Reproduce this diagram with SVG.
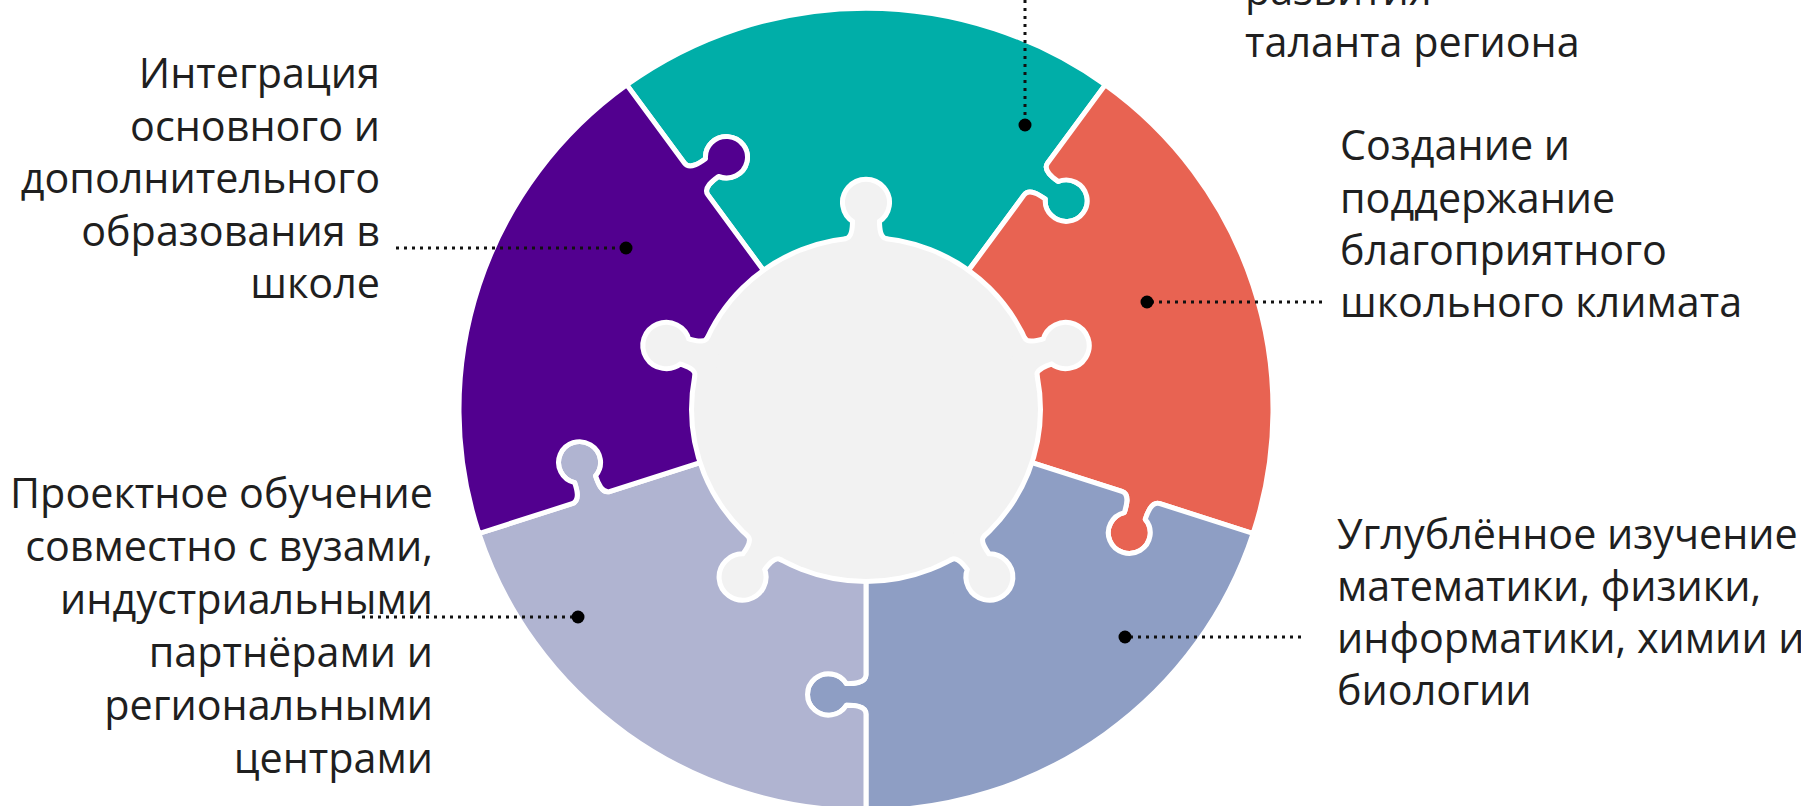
<svg xmlns="http://www.w3.org/2000/svg" width="1801" height="806" viewBox="0 0 1801 806">
<style>
.piece{stroke:#ffffff;stroke-width:5;stroke-linejoin:round}
.lbl{font-family:"Open Sans","Noto Sans","DejaVu Sans",sans-serif;font-size:41.3px;fill:#1f1f1f}
.end{text-anchor:end}
.dotline{stroke:#111;stroke-width:3;stroke-dasharray:3 5;fill:none}
.dot{fill:#000}
</style>
<defs>
<path id="piece" class="piece" d="M -239.23,-329.27 A 407 407 0 0 1 239.23,-329.27 L 181.63,-249.99 C 176.34,-242.71 187.34,-234.71 192.20,-231.19 A 21 21 0 1 1 179.26,-213.39 C 174.40,-216.92 163.40,-224.91 158.11,-217.63 L 101.10,-139.15 A 172 172 0 0 0 19.95,-170.84 C 11,-171.9 11,-186 11,-192.1 A 21 21 0 1 0 -11,-192.1 C -11,-186 -11,-171.9 -19.95,-170.84 A 172 172 0 0 0 -101.10,-139.15 L -158.11,-217.63 C -163.40,-224.91 -152.41,-232.89 -147.55,-236.43 A 21 21 0 1 0 -160.48,-254.23 C -165.33,-250.70 -176.34,-242.71 -181.63,-249.99 Z"/>
<path id="knob" d="M -19.95,-170.84 C -11,-171.9 -11,-186 -11,-192.1 A 21 21 0 1 1 11,-192.1 C 11,-186 11,-171.9 19.95,-170.84 L 0,-150 Z"/>
</defs>
<rect width="1801" height="806" fill="#ffffff"/>

<g id="node-talent">
<use href="#piece" fill="#00AEA8" transform="translate(866,409.5) scale(1,0.986)"/>
<text class="lbl" x="1245" y="4.5">развития</text>
<text class="lbl" x="1245" y="57">таланта региона</text>
</g>
<g id="node-climate">
<use href="#piece" fill="#E86352" transform="translate(866,409.5) scale(1,0.986) rotate(72)"/>
<text class="lbl" x="1340" y="160">Создание и</text>
<text class="lbl" x="1340" y="212.5">поддержание</text>
<text class="lbl" x="1340" y="265">благоприятного</text>
<text class="lbl" x="1340" y="317">школьного климата</text>
</g>
<g id="node-science">
<use href="#piece" fill="#8E9EC4" transform="translate(866,409.5) scale(1,0.986) rotate(144)"/>
<text class="lbl" x="1337" y="549">Углублённое изучение</text>
<text class="lbl" x="1337" y="601">математики, физики,</text>
<text class="lbl" x="1337" y="653">информатики, химии и</text>
<text class="lbl" x="1337" y="705">биологии</text>
</g>
<g id="node-projects">
<use href="#piece" fill="#B0B4D1" transform="translate(866,409.5) scale(1,0.986) rotate(216)"/>
<text class="lbl end" x="433" y="508">Проектное обучение</text>
<text class="lbl end" x="433" y="561">совместно с вузами,</text>
<text class="lbl end" x="433" y="614">индустриальными</text>
<text class="lbl end" x="433" y="667">партнёрами и</text>
<text class="lbl end" x="433" y="720">региональными</text>
<text class="lbl end" x="433" y="773">центрами</text>
</g>
<g id="node-integration">
<use href="#piece" fill="#52008F" transform="translate(866,409.5) scale(1,0.986) rotate(288)"/>
<text class="lbl end" x="380" y="88">Интеграция</text>
<text class="lbl end" x="380" y="140.5">основного и</text>
<text class="lbl end" x="380" y="193">дополнительного</text>
<text class="lbl end" x="380" y="245.5">образования в</text>
<text class="lbl end" x="380" y="298">школе</text>
</g>
<g id="node-center" transform="translate(866,409.5) scale(1,0.986)">
<g fill="#ffffff" stroke="#ffffff" stroke-width="10" stroke-linejoin="round">
<circle r="172"/>
<use href="#knob"/>
<use href="#knob" transform="rotate(72)"/>
<use href="#knob" transform="rotate(144)"/>
<use href="#knob" transform="rotate(216)"/>
<use href="#knob" transform="rotate(288)"/>
</g>
<g fill="#F2F2F2">
<circle r="172"/>
<use href="#knob"/>
<use href="#knob" transform="rotate(72)"/>
<use href="#knob" transform="rotate(144)"/>
<use href="#knob" transform="rotate(216)"/>
<use href="#knob" transform="rotate(288)"/>
</g>
</g>

<g id="connectors">
<line class="dotline" x1="1025" y1="0" x2="1025" y2="120"/>
<circle class="dot" cx="1025" cy="125" r="6.5"/>
<line class="dotline" x1="1151" y1="302" x2="1323" y2="302"/>
<circle class="dot" cx="1147" cy="302" r="6.5"/>
<line class="dotline" x1="1130" y1="637" x2="1304" y2="637"/>
<circle class="dot" cx="1125" cy="637" r="6.5"/>
<line class="dotline" x1="362" y1="617" x2="574" y2="617"/>
<circle class="dot" cx="578" cy="617" r="6.5"/>
<line class="dotline" x1="396" y1="248" x2="622" y2="248"/>
<circle class="dot" cx="626" cy="248" r="6.5"/>
</g>
</svg>
